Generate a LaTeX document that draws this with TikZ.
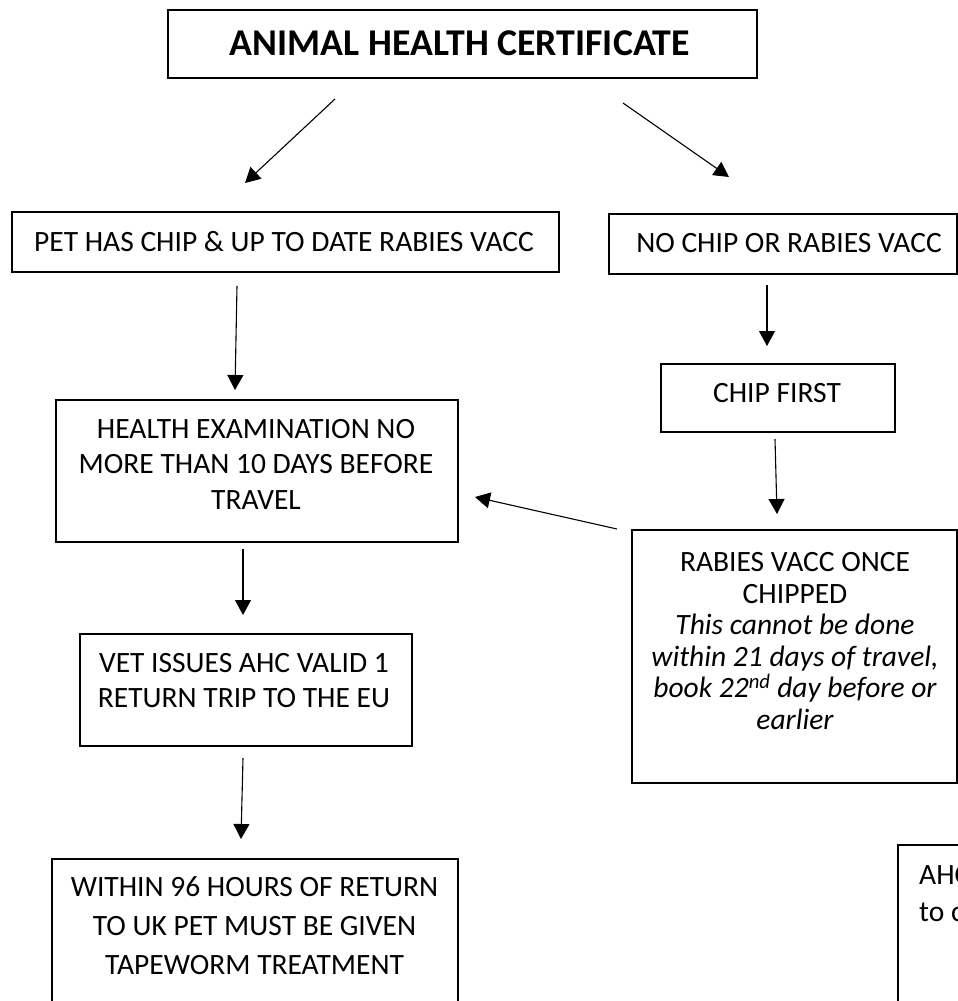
\documentclass[tikz,border=0pt]{standalone}
\usepackage{fontspec}
\setmainfont{Carlito}
\usetikzlibrary{arrows.meta}
\begin{document}
\begin{tikzpicture}[x=1pt,y=-1pt,
  box/.style={draw=black,line width=1.8pt,inner sep=0pt,anchor=north west},
  txt/.style={inner sep=0pt,align=center,font=\fontsize{29.5}{35.5}\selectfont},
  conn/.style={line width=1.1pt,-{Triangle[length=15pt,width=16pt]}}]
\useasboundingbox (0,0) rectangle (958,1001);
\clip (0,0) rectangle (958,1001);
% boxes
\node[box,minimum width=589pt,minimum height=68pt] (title) at (167,9) {};
\node[box,minimum width=547pt,minimum height=60pt] (pet) at (11,211) {};
\node[box,minimum width=348pt,minimum height=60pt] (nochip) at (608,213) {};
\node[box,minimum width=234pt,minimum height=68pt] (chip) at (660,363) {};
\node[box,minimum width=402pt,minimum height=142pt] (health) at (55,399) {};
\node[box,minimum width=332pt,minimum height=112pt] (vet) at (79,633) {};
\node[box,minimum width=406pt,minimum height=170pt] (within) at (51,858) {};
\node[box,minimum width=325pt,minimum height=253pt] (rabies) at (631,529) {};
\node[box,minimum width=120pt,minimum height=170pt] (ahc) at (897,844) {};
% texts
\node[txt,font=\fontsize{37.8}{40}\selectfont\bfseries] (titleT) at (460,43) {ANIMAL HEALTH CERTIFICATE};
\node[txt] (petT) at (284,242) {PET HAS CHIP \& UP TO DATE RABIES VACC};
\node[txt] (nochipT) at (789,243) {NO CHIP OR RABIES VACC};
\node[txt] (chipT) at (777,393) {CHIP FIRST};
\node[txt] (healthT) at (256,464) {HEALTH EXAMINATION NO\\MORE THAN 10 DAYS BEFORE\\TRAVEL};
\node[txt,font=\fontsize{29.5}{35}\selectfont] (vetT) at (244,681) {VET ISSUES AHC VALID 1\\RETURN TRIP TO THE EU};
\node[txt,font=\fontsize{29.5}{39}\selectfont] (withinT) at (254.5,926) {WITHIN 96 HOURS OF RETURN\\TO UK PET MUST BE GIVEN\\TAPEWORM TREATMENT};
\node[txt,font=\fontsize{29.5}{31.6}\selectfont] (rabiesT) at (795,641) {RABIES VACC ONCE\\CHIPPED\\\itshape This cannot be done\\\itshape within 21 days of travel,\\\itshape book 22\textsuperscript{nd} day before or\\\itshape earlier};
\node[txt,align=left,anchor=west,font=\fontsize{29.5}{37}\selectfont] (ahcT) at (919,894) {AHC\\to c};
% connector end points
\coordinate (a1s) at (335,99);  \coordinate (a1e) at (245,183);
\coordinate (a2s) at (623,103); \coordinate (a2e) at (729,177);
\coordinate (a3s) at (237,286); \coordinate (a3e) at (235,390);
\coordinate (a4s) at (767,285); \coordinate (a4e) at (767,346);
\coordinate (a5s) at (775,439); \coordinate (a5e) at (777,514);
\coordinate (a6s) at (617,529); \coordinate (a6e) at (475,497);
\coordinate (a7s) at (243,549); \coordinate (a7e) at (243,615);
\coordinate (a8s) at (243,758); \coordinate (a8e) at (241,839);
\draw[conn] (a1s) -- (a1e);
\draw[conn] (a2s) -- (a2e);
\draw[conn] (a3s) -- (a3e);
\draw[conn] (a4s) -- (a4e);
\draw[conn] (a5s) -- (a5e);
\draw[conn] (a6s) -- (a6e);
\draw[conn] (a7s) -- (a7e);
\draw[conn] (a8s) -- (a8e);
\end{tikzpicture}
\end{document}
